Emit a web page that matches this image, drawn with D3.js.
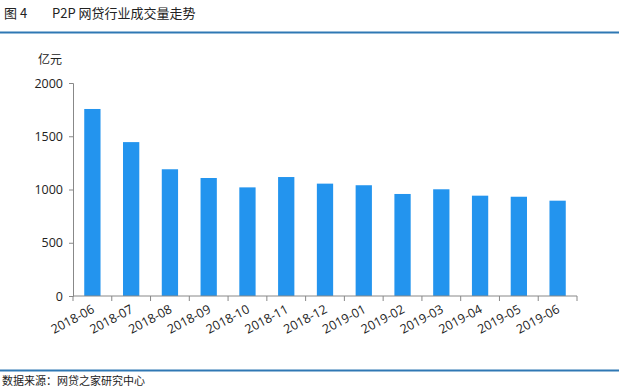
<!DOCTYPE html>
<html>
<head>
<meta charset="utf-8">
<script src="https://cdnjs.cloudflare.com/ajax/libs/d3/7.8.5/d3.min.js"></script>
<style>
  body { margin: 0; background: #fff; }
  text { font-family: "Noto Sans CJK SC", "Noto Sans", sans-serif; }
</style>
</head>
<body>
<div id="chart"></div>
<script>
const months = ['2018-06','2018-07','2018-08','2018-09','2018-10','2018-11','2018-12',
                '2019-01','2019-02','2019-03','2019-04','2019-05','2019-06']
const volume = [1756, 1445, 1190, 1108, 1020, 1117, 1055, 1040, 958, 1002, 942, 932, 895]
const yTicks = [0, 500, 1000, 1500, 2000]

const w = 619
const h = 391

const svg = d3.select('#chart')
              .append('svg')
              .attr('width', w)
              .attr('height', h)

// header
svg.append('text')
   .attr('x', 4).attr('y', 18)
   .attr('font-size', 13).attr('fill', '#222')
   .text('图 4')
svg.append('text')
   .attr('x', 52).attr('y', 18)
   .attr('font-size', 13).attr('fill', '#222')
   .text('P2P 网贷行业成交量走势')

svg.append('line')
   .attr('x1', 0).attr('x2', w)
   .attr('y1', 32.5).attr('y2', 32.5)
   .attr('stroke', '#2f78b4').attr('stroke-width', 2)

// scales
const xScale = d3.scaleBand()
                 .domain(months)
                 .range([73, 577])
                 .paddingInner(0.58)
                 .paddingOuter(0.29)

const yScale = d3.scaleLinear()
                 .domain([0, 2000])
                 .range([296, 83])

svg.selectAll('rect')
   .data(volume)
   .enter()
   .append('rect')
   .attr('x', (d, i) => xScale(months[i]))
   .attr('y', d => yScale(d))
   .attr('width', xScale.bandwidth())
   .attr('height', d => yScale(0) - yScale(d))
   .attr('fill', '#2394ee')

// y axis
const yAxis = d3.axisLeft(yScale)
                .tickValues(yTicks)
                .tickFormat(d3.format('d'))
                .tickSize(4)
                .tickPadding(6)
const gy = svg.append('g')
              .attr('transform', 'translate(73,0)')
              .call(yAxis)
gy.select('.domain').attr('stroke', '#888')
gy.selectAll('.tick line').attr('stroke', '#888')
gy.selectAll('.tick text')
  .attr('font-size', 12.5).attr('fill', '#222')
  .style('font-family', '"Open Sans", sans-serif')

svg.append('text')
   .attr('x', 38).attr('y', 64)
   .attr('font-size', 12).attr('fill', '#222')
   .text('亿元')

// x axis, ticks on category boundaries
const gx = svg.append('g')
              .attr('transform', 'translate(0,296)')
gx.append('line')
  .attr('x1', 73).attr('x2', 577)
  .attr('stroke', '#888')
const step = xScale.step()
const bounds = d3.range(months.length + 1).map(i => 73 + i * step)
gx.selectAll('.bt')
  .data(bounds)
  .enter()
  .append('line')
  .attr('class', 'bt')
  .attr('x1', d => d).attr('x2', d => d)
  .attr('y1', 0).attr('y2', 5)
  .attr('stroke', '#888')

gx.selectAll('.lbl')
  .data(months)
  .enter()
  .append('text')
  .attr('class', 'lbl')
  .attr('text-anchor', 'end')
  .attr('font-size', 12.5)
  .attr('fill', '#222')
  .style('font-family', '"Open Sans", sans-serif')
  .attr('transform', d => 'translate(' + (xScale(d) + xScale.bandwidth() / 2 + 3) + ',16) rotate(-28)')
  .text(d => d)

// footer
svg.append('line')
   .attr('x1', 0).attr('x2', w)
   .attr('y1', 370.5).attr('y2', 370.5)
   .attr('stroke', '#2f78b4').attr('stroke-width', 2)

svg.append('text')
   .attr('x', 2).attr('y', 385)
   .attr('font-size', 11).attr('fill', '#222')
   .text('数据来源：网贷之家研究中心')
</script>
</body>
</html>
